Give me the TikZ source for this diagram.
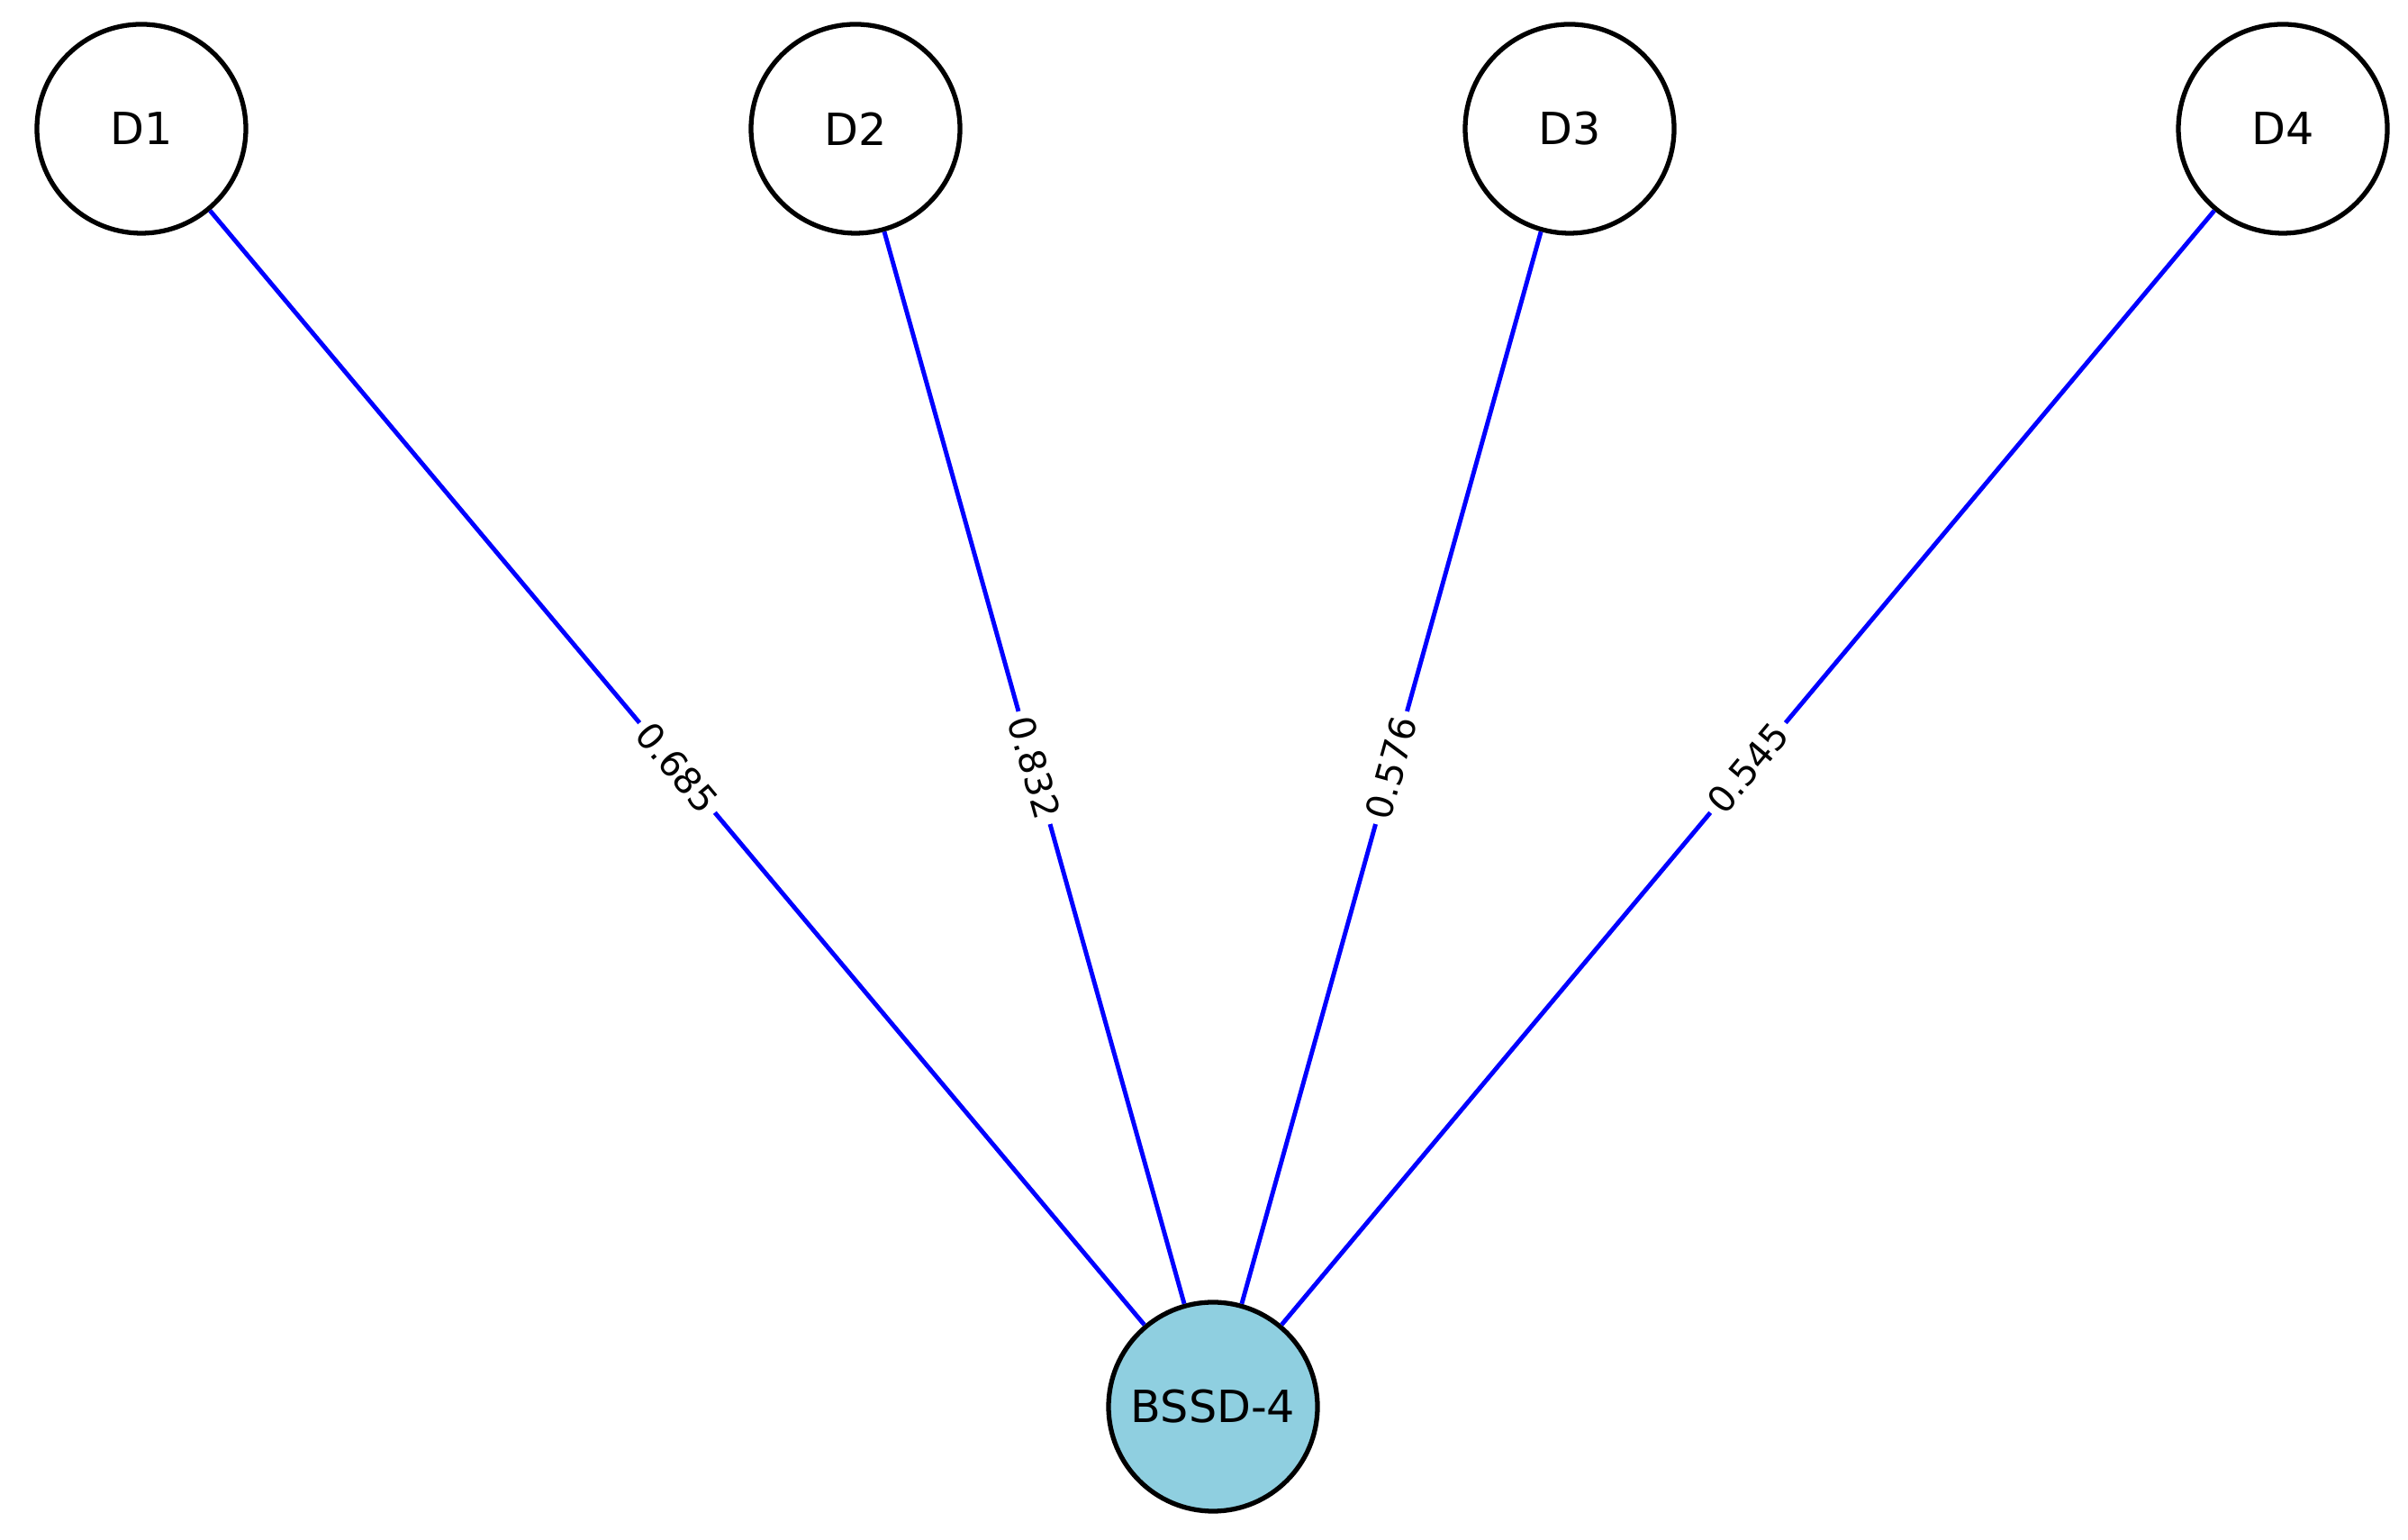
\documentclass[tikz,border=0pt]{standalone}
\usepackage{fontspec}
\setmainfont{DejaVu Sans}
\definecolor{bnode}{HTML}{8FCFE0}
\begin{document}
\begin{tikzpicture}
\useasboundingbox (0,0) rectangle (26.74,17.10);
\tikzset{
  nd/.style={circle,draw=black,line width=1.5pt,minimum size=2.32cm,inner sep=0pt,font=\fontsize{14}{16}\selectfont},
  ed/.style={draw=blue,line width=1.4pt},
  lb/.style={midway,sloped,fill=white,inner sep=2pt,font=\fontsize{11.5}{13}\selectfont}
}
\node[nd,fill=white] (D1) at (1.57,15.67) {D1};
\node[nd,fill=white] (D2) at (9.50,15.67) {D2};
\node[nd,fill=white] (D3) at (17.43,15.67) {D3};
\node[nd,fill=white] (D4) at (25.35,15.67) {D4};
\node[nd,fill=bnode] (B) at (13.47,1.48) {BSSD-4};
\draw[ed] (D1) -- node[lb]{0.685} (B);
\draw[ed] (D2) -- node[lb]{0.832} (B);
\draw[ed] (D3) -- node[lb]{0.576} (B);
\draw[ed] (D4) -- node[lb]{0.545} (B);
\end{tikzpicture}
\end{document}
